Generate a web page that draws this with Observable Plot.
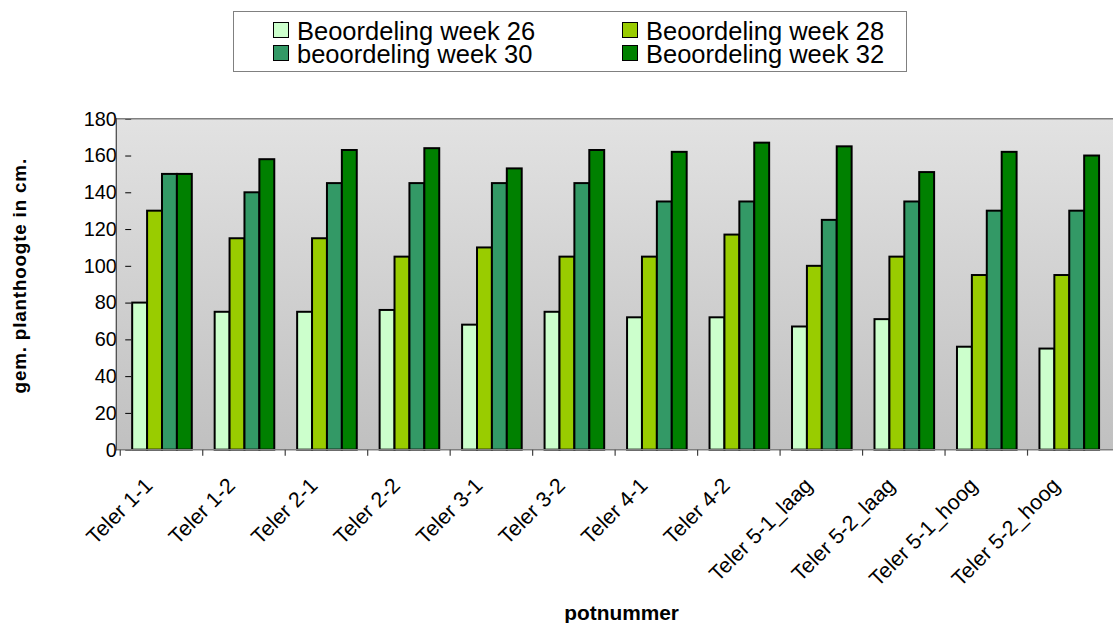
<!DOCTYPE html>
<html>
<head>
<meta charset="utf-8">
<script src="https://cdn.jsdelivr.net/npm/d3@7"></script>
<script src="https://cdn.jsdelivr.net/npm/@observablehq/plot@0.6"></script>
<style>
html, body { margin: 0; padding: 0; background: #fff; overflow: hidden; }
body { font-family: "Liberation Sans", Arial, sans-serif; }
#wrap { position: relative; width: 1113px; height: 623px; overflow: hidden; }
#legendArea { position: relative; height: 80px; }
#legendBox { position: absolute; left: 233px; top: 11px; width: 672px; height: 59px; border: 1.5px solid #808080; background: #fff; }
.sw { position: absolute; width: 14px; height: 14px; border: 1.5px solid #000; }
.lt { position: absolute; font-size: 25.5px; line-height: 22px; height: 22px; color: #000; white-space: nowrap; }
#chart svg { display: block; }
</style>
</head>
<body>
<div id="wrap">
  <div id="legendArea"><div id="legendBox"></div></div>
  <div id="chart"></div>
</div>
<script>
const categories = ["Teler 1-1","Teler 1-2","Teler 2-1","Teler 2-2","Teler 3-1","Teler 3-2","Teler 4-1","Teler 4-2","Teler 5-1_laag","Teler 5-2_laag","Teler 5-1_hoog","Teler 5-2_hoog"];
const seriesNames = ["Beoordeling week 26","Beoordeling week 28","beoordeling week 30","Beoordeling week 32"];
const week26 = [80, 75, 75, 76, 68, 75, 72, 72, 67, 71, 56, 55];
const week28 = [130, 115, 115, 105, 110, 105, 105, 117, 100, 105, 95, 95];
const week30 = [150, 140, 145, 145, 145, 145, 135, 135, 125, 135, 130, 130];
const week32 = [150, 158, 163, 164, 153, 163, 162, 167, 165, 151, 162, 160];
const colors = ["#CCFFCC", "#99CC00", "#339966", "#008000"];
const yTicks = [0, 20, 40, 60, 80, 100, 120, 140, 160, 180];
const yLabel = "gem. planthoogte in cm.";
const xLabel = "potnummer";

const seriesValues = [week26, week28, week30, week32];
const data = seriesValues.flatMap((vals, s) =>
  vals.map((v, i) => ({cat: categories[i], series: seriesNames[s], value: v})));

// Legend (HTML, above the SVG)
const box = document.getElementById("legendBox");
const legendPos = [[39, 19], [388, 19], [39, 42], [388, 42]];
seriesNames.forEach((name, i) => {
  const [lx, ly] = legendPos[i];
  const sw = document.createElement("div");
  sw.className = "sw";
  sw.style.left = lx + "px";
  sw.style.top = (ly - 9) + "px";
  sw.style.background = colors[i];
  box.appendChild(sw);
  const t = document.createElement("div");
  t.className = "lt";
  t.style.left = (lx + 24) + "px";
  t.style.top = (ly - 11) + "px";
  t.textContent = name;
  box.appendChild(t);
});

const chart = Plot.plot({
  width: 1120,
  height: 543,
  marginTop: 39,
  marginBottom: 171,
  marginLeft: 117,
  marginRight: 0,
  style: {fontFamily: "'Liberation Sans', Arial, sans-serif", fontSize: "19px", color: "#000", background: "transparent", overflow: "visible"},
  fx: {
    domain: categories,
    paddingInner: 0.27,
    paddingOuter: 0.135,
    axis: "bottom",
    tickRotate: -45,
    tickSize: 0,
    tickPadding: 24,
    label: xLabel,
    labelAnchor: "center",
    labelOffset: 168
  },
  x: {domain: seriesNames, padding: 0, axis: null},
  y: {
    domain: [0, 180],
    ticks: yTicks,
    tickSize: 6,
    tickPadding: 9,
    label: yLabel,
    labelAnchor: "center",
    labelOffset: 120
  },
  color: {domain: seriesNames, range: colors},
  marks: [
    Plot.barY(data, {fx: "cat", x: "series", y: "value", fill: "series", stroke: "#000", strokeWidth: 2})
  ]
});

document.getElementById("chart").appendChild(chart);

// Decorations derived from the scales: gradient plot area, borders, boundary ticks
const ns = "http://www.w3.org/2000/svg";
const ys = chart.scale("y");
const fxs = chart.scale("fx");
const yTop = ys.apply(180), yBot = ys.apply(0);
const xLeft = 117, xRight = 1120;

const defs = document.createElementNS(ns, "defs");
defs.innerHTML = '<linearGradient id="plotBg" x1="0" y1="0" x2="0" y2="1"><stop offset="0" stop-color="#E2E2E2"/><stop offset="1" stop-color="#C0C0C0"/></linearGradient>';
const bg = document.createElementNS(ns, "rect");
bg.setAttribute("x", xLeft);
bg.setAttribute("y", yTop);
bg.setAttribute("width", xRight - xLeft);
bg.setAttribute("height", yBot - yTop);
bg.setAttribute("fill", "url(#plotBg)");
const firstG = chart.querySelector("g");
chart.insertBefore(defs, firstG);
chart.insertBefore(bg, firstG);

const deco = document.createElementNS(ns, "g");
function line(x1, y1, x2, y2, color, w) {
  const l = document.createElementNS(ns, "line");
  l.setAttribute("x1", x1); l.setAttribute("y1", y1);
  l.setAttribute("x2", x2); l.setAttribute("y2", y2);
  l.setAttribute("stroke", color); l.setAttribute("stroke-width", w);
  deco.appendChild(l);
}
line(xLeft, yTop, xRight, yTop, "#808080", 1.5);
line(xLeft, yBot, xRight, yBot, "#808080", 1.5);
line(xLeft, yTop - 0.75, xLeft, yBot + 0.75, "#404040", 1.2);
const gap = (fxs.step - fxs.bandwidth) / 2;
categories.forEach(c => {
  const bx = fxs.apply(c) - gap;
  line(bx, yBot, bx, yBot + 6, "#404040", 1.2);
});
chart.appendChild(deco);

// axis text styling
const yl = chart.querySelector('[aria-label="y-axis label"]');
if (yl) {
  yl.setAttribute("font-weight", "bold");
  yl.setAttribute("font-size", "19px");
  yl.setAttribute("letter-spacing", "0.8px");
  yl.setAttribute("transform", "translate(0,-9) " + (yl.getAttribute("transform") || ""));
  yl.querySelectorAll("text").forEach(t => { t.textContent = yLabel; });
}
const xl = chart.querySelector('[aria-label="fx-axis label"]');
if (xl) {
  xl.setAttribute("font-weight", "bold");
  xl.setAttribute("font-size", "21px");
  xl.setAttribute("transform", "translate(6,3) " + (xl.getAttribute("transform") || ""));
  xl.querySelectorAll("text").forEach(t => { t.textContent = xLabel; });
}
const fxt = chart.querySelector('[aria-label="fx-axis tick label"]');
if (fxt) {
  fxt.setAttribute("font-size", "21.5px");
  fxt.setAttribute("transform", "translate(-13,8) " + (fxt.getAttribute("transform") || ""));
}
const yt = chart.querySelector('[aria-label="y-axis tick label"]');
if (yt) yt.setAttribute("font-size", "20px");
</script>
</body>
</html>
